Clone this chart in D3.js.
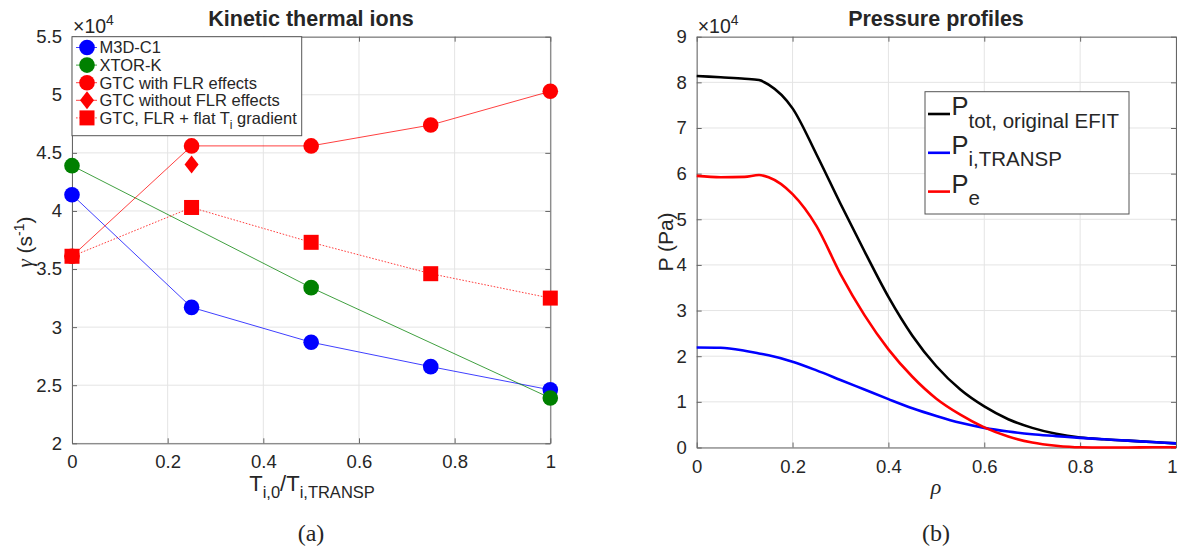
<!DOCTYPE html>
<html>
<head>
<meta charset="utf-8">
<script src="https://cdn.jsdelivr.net/npm/d3@7"></script>
<style>
  html, body { margin: 0; padding: 0; background: #fff; }
  svg { display: block; }
  text { font-family: "Liberation Sans", Arial, Helvetica, sans-serif; fill: #262626; }
  .serif { font-family: "Liberation Serif", "DejaVu Serif", serif; }
</style>
</head>
<body>
<svg id="fig" width="1178" height="549"></svg>
<script>
// ---- Panel (a): growth rate vs ion temperature ratio ----
const tiRatio   = [0, 0.25, 0.5, 0.75, 1];
const m3dc1     = [4.14, 3.17, 2.87, 2.66, 2.46];
const xtorRatio = [0, 0.5, 1];
const xtorK     = [4.39, 3.34, 2.39];
const gtcFlr    = [3.61, 4.56, 4.56, 4.74, 5.03];
const gtcNoFlrRatio = [0.25];
const gtcNoFlr  = [4.40];
const gtcFlat   = [3.61, 4.03, 3.73, 3.46, 3.25];
const gammaTicks = [2, 2.5, 3, 3.5, 4, 4.5, 5, 5.5];
const ratioTicks = [0, 0.2, 0.4, 0.6, 0.8, 1];
const legendA = ["M3D-C1", "XTOR-K", "GTC with FLR effects", "GTC without FLR effects", "GTC, FLR + flat T"];

// ---- Panel (b): pressure profiles ----
const rho   = [0, 0.05, 0.1, 0.13, 0.15, 0.2, 0.25, 0.3, 0.35, 0.4, 0.45, 0.5, 0.55, 0.6, 0.65, 0.7, 0.75, 0.8, 0.85, 0.9, 0.95, 1];
const pTot  = [8.14, 8.11, 8.08, 8.05, 7.95, 7.43, 6.42, 5.34, 4.3, 3.3, 2.45, 1.78, 1.27, 0.9, 0.62, 0.43, 0.3, 0.22, 0.18, 0.15, 0.12, 0.09];
const pIon  = [2.19, 2.185, 2.12, 2.06, 2.02, 1.88, 1.69, 1.48, 1.27, 1.06, 0.86, 0.69, 0.54, 0.43, 0.35, 0.29, 0.25, 0.21, 0.18, 0.15, 0.12, 0.09];
const pEle  = [5.95, 5.92, 5.93, 5.97, 5.92, 5.55, 4.85, 3.8, 2.9, 2.15, 1.55, 1.07, 0.72, 0.44, 0.24, 0.11, 0.04, 0.005, 0.0, 0.0, 0.005, 0.005];
const pTicks   = [0, 1, 2, 3, 4, 5, 6, 7, 8, 9];
const rhoTicks = [0, 0.2, 0.4, 0.6, 0.8, 1];

const svg = d3.select("#fig");
const fmt = d3.format("~g");

function frame(g, x, y, xt, yt) {
  const [x0, x1] = x.range(), [y0, y1] = y.range();
  const tick = 5;
  // grid
  g.append("g").selectAll("line").data(xt).join("line")
    .attr("x1", d => x(d)).attr("x2", d => x(d)).attr("y1", y0).attr("y2", y1)
    .attr("stroke", "#e4e4e4").attr("stroke-width", 1);
  g.append("g").selectAll("line").data(yt).join("line")
    .attr("x1", x0).attr("x2", x1).attr("y1", d => y(d)).attr("y2", d => y(d))
    .attr("stroke", "#e4e4e4").attr("stroke-width", 1);
  // axes with inward ticks on all four sides
  const ax = g.append("g").attr("class", "axes");
  const bottom = ax.append("g").attr("transform", `translate(0,${y0})`)
    .call(d3.axisBottom(x).tickValues(xt).tickFormat(fmt).tickSizeInner(-tick).tickSizeOuter(0).tickPadding(12));
  ax.append("g").attr("transform", `translate(0,${y1})`)
    .call(d3.axisTop(x).tickValues(xt).tickFormat("").tickSizeInner(-tick).tickSizeOuter(0));
  ax.append("g").attr("transform", `translate(${x0},0)`)
    .call(d3.axisLeft(y).tickValues(yt).tickFormat(fmt).tickSizeInner(-tick).tickSizeOuter(0).tickPadding(10));
  ax.append("g").attr("transform", `translate(${x1},0)`)
    .call(d3.axisRight(y).tickValues(yt).tickFormat("").tickSizeInner(-tick).tickSizeOuter(0));
  ax.selectAll(".domain").attr("stroke", "#666").attr("stroke-width", 1);
  ax.selectAll(".tick line").attr("stroke", "#666");
  ax.selectAll(".tick text").attr("font-size", 18.5).attr("fill", "#262626")
    .style("font-family", '"Liberation Sans", Arial, sans-serif');
  // exponent label
  const ex = g.append("text").attr("x", x0 + 1).attr("y", y1 - 4).attr("font-size", 19.5);
  ex.append("tspan").text("\u00d710");
  ex.append("tspan").attr("font-size", 14).attr("dy", -7.5).text("4");
  return bottom;
}

// ================= Panel (a) =================
{
  const g = svg.append("g");
  const x = d3.scaleLinear([0, 1], [72, 550.3]);
  const y = d3.scaleLinear([2, 5.5], [443.3, 36.7]);
  frame(g, x, y, ratioTicks, gammaTicks);

  const line = d3.line().x(d => x(d[0])).y(d => y(d[1]));
  const R = 7.8, S = 15;
  const symbols = {
    circle: (sel, c) => sel.append("circle").attr("r", R).attr("fill", c),
    square: (sel, c) => sel.append("rect").attr("x", -S / 2).attr("y", -S / 2).attr("width", S).attr("height", S).attr("fill", c),
    diamond: (sel, c) => sel.append("path").attr("d", "M0,-9L7,0L0,9L-7,0Z").attr("fill", c)
  };
  const series = [
    { xs: tiRatio, ys: m3dc1, color: "#0000ff", sym: "circle", dash: null },
    { xs: xtorRatio, ys: xtorK, color: "#008000", sym: "circle", dash: null },
    { xs: tiRatio, ys: gtcFlr, color: "#ff0000", sym: "circle", dash: null },
    { xs: gtcNoFlrRatio, ys: gtcNoFlr, color: "#ff0000", sym: "diamond", dash: null },
    { xs: tiRatio, ys: gtcFlat, color: "#ff0000", sym: "square", dash: "1.6,1.6" }
  ];
  series.forEach(s => {
    const pts = s.xs.map((v, i) => [v, s.ys[i]]);
    g.append("path").attr("d", line(pts)).attr("fill", "none")
      .attr("stroke", s.color).attr("stroke-width", 1).attr("stroke-opacity", 0.75)
      .attr("stroke-dasharray", s.dash);
    pts.forEach(p => {
      const m = g.append("g").attr("transform", `translate(${x(p[0])},${y(p[1])})`);
      symbols[s.sym](m, s.color);
    });
  });

  // legend
  const lg = g.append("g");
  lg.append("rect").attr("x", 72).attr("y", 36.7).attr("width", 229.7).attr("height", 99)
    .attr("fill", "#fff").attr("stroke", "#555").attr("stroke-width", 1);
  series.forEach((s, i) => {
    const cy = 47.5 + i * 17.6;
    lg.append("line").attr("x1", 76).attr("x2", 97).attr("y1", cy).attr("y2", cy)
      .attr("stroke", s.color).attr("stroke-width", 1).attr("stroke-opacity", 0.75)
      .attr("stroke-dasharray", s.dash);
    const m = lg.append("g").attr("transform", `translate(87,${cy})`);
    symbols[s.sym](m, s.color);
    const t = lg.append("text").attr("x", 99.5).attr("y", cy + 5.8).attr("font-size", 16.5).attr("fill", "#000");
    t.append("tspan").text(legendA[i]);
    if (i === 4) {
      t.append("tspan").attr("font-size", 12).attr("dy", 5).text("i");
      t.append("tspan").attr("dy", -5).text(" gradient");
    }
  });

  // title and axis labels
  g.append("text").attr("x", 311).attr("y", 26).attr("text-anchor", "middle")
    .attr("font-size", 21.5).attr("font-weight", "bold").attr("fill", "#000").text("Kinetic thermal ions");
  const xl = g.append("text").attr("x", 312).attr("y", 490.5).attr("text-anchor", "middle").attr("font-size", 22);
  xl.append("tspan").text("T");
  xl.append("tspan").attr("font-size", 16.5).attr("dy", 7).text("i,0");
  xl.append("tspan").attr("dy", -7).text("/T");
  xl.append("tspan").attr("font-size", 16.5).attr("dy", 7).text("i,TRANSP");
  const yl = g.append("text").attr("transform", "translate(32,242) rotate(-90)").attr("text-anchor", "middle").attr("font-size", 21);
  yl.append("tspan").attr("class", "serif").attr("font-style", "italic").text("\u03b3");
  yl.append("tspan").text(" (s");
  yl.append("tspan").attr("font-size", 14).attr("dy", -8).text("-1");
  yl.append("tspan").attr("dy", 8).text(")");
  g.append("text").attr("class", "serif").attr("x", 311).attr("y", 541).attr("text-anchor", "middle")
    .attr("font-size", 24).attr("fill", "#000").text("(a)");
}

// ================= Panel (b) =================
{
  const g = svg.append("g");
  const x = d3.scaleLinear([0, 1], [696.7, 1176]);
  const y = d3.scaleLinear([0, 9], [447.5, 36.7]);
  const bottom = frame(g, x, y, rhoTicks, pTicks);
  // keep the last tick label inside the page edge
  bottom.selectAll(".tick text").filter(d => d === 1).attr("dx", -4);

  const line = d3.line().x(d => x(d[0])).y(d => y(d[1])).curve(d3.curveMonotoneX);
  const profiles = [
    { vals: pTot, color: "#000000", label: "tot, original EFIT" },
    { vals: pIon, color: "#0000ff", label: "i,TRANSP" },
    { vals: pEle, color: "#ff0000", label: "e" }
  ];
  profiles.forEach(p => {
    g.append("path").attr("d", line(rho.map((r, i) => [r, p.vals[i]])))
      .attr("fill", "none").attr("stroke", p.color).attr("stroke-width", 2.6)
      .attr("stroke-linejoin", "round");
  });

  const lg = g.append("g");
  lg.append("rect").attr("x", 925).attr("y", 91.7).attr("width", 204).attr("height", 122.3)
    .attr("fill", "#fff").attr("stroke", "#555").attr("stroke-width", 1);
  profiles.forEach((p, i) => {
    const cy = 114 + i * 38.8;
    lg.append("line").attr("x1", 928).attr("x2", 950).attr("y1", cy).attr("y2", cy)
      .attr("stroke", p.color).attr("stroke-width", 2.6);
    const t = lg.append("text").attr("x", 951.5).attr("y", cy + 1).attr("font-size", 25.5).attr("fill", "#000");
    t.append("tspan").text("P");
    t.append("tspan").attr("font-size", 20.5).attr("dy", 12.5).text(p.label);
  });

  g.append("text").attr("x", 936).attr("y", 26).attr("text-anchor", "middle")
    .attr("font-size", 21.5).attr("font-weight", "bold").attr("fill", "#000").text("Pressure profiles");
  g.append("text").attr("class", "serif").attr("x", 936).attr("y", 494).attr("text-anchor", "middle")
    .attr("font-size", 22).attr("font-style", "italic").text("\u03c1");
  g.append("text").attr("transform", "translate(673,242) rotate(-90)").attr("text-anchor", "middle")
    .attr("font-size", 21).text("P (Pa)");
  g.append("text").attr("class", "serif").attr("x", 936).attr("y", 541).attr("text-anchor", "middle")
    .attr("font-size", 24).attr("fill", "#000").text("(b)");
}
</script>
</body>
</html>
